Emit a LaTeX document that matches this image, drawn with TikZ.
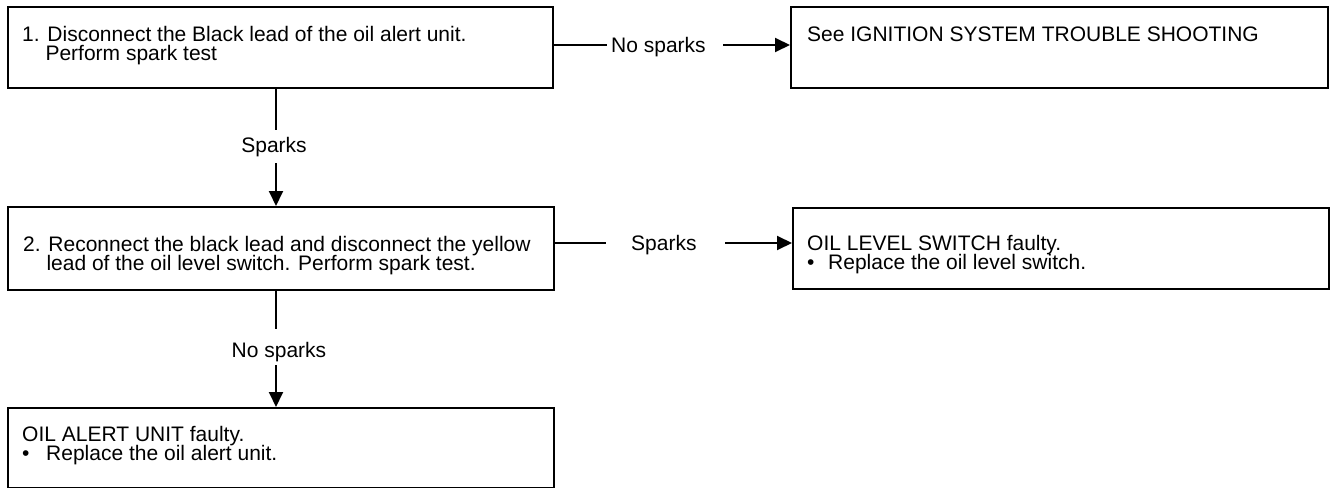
\documentclass[tikz,border=0pt]{standalone}
\usepackage{fontspec}
\setmainfont{Liberation Sans}
\usetikzlibrary{arrows.meta}
\newcommand{\diagfont}{\fontsize{21pt}{19pt}\selectfont\lineskiplimit=-50pt\relax}
\tikzset{
  box/.style={draw, line width=1.8pt, inner sep=0pt, anchor=north west},
  txt/.style={anchor=north west, inner sep=0pt, align=left, font=\diagfont},
  lab/.style={anchor=base, inner sep=0pt, font=\diagfont},
  conn/.style={line width=1.9pt},
  arr/.style={line width=1.9pt, -{Triangle[length=15pt,width=14pt]}},
}
\begin{document}
\begin{tikzpicture}[x=1pt,y=-1pt]
\useasboundingbox (0,0) rectangle (1332,487);
% boxes
\node[box, minimum width=545pt, minimum height=81pt] (b1) at (7,6) {};
\node[box, minimum width=537pt, minimum height=81pt] (b2) at (790,6) {};
\node[box, minimum width=546pt, minimum height=83pt] (b3) at (7,206) {};
\node[box, minimum width=536pt, minimum height=81pt] (b4) at (792,207) {};
\node[box, minimum width=546pt, minimum height=80pt] (b5) at (7,407) {};
% texts
\node[txt] (t1) at (22,26) {1. Disconnect the Black lead of the oil alert unit.\\\hphantom{1.\ }Perform spark test};
\node[txt] (t2) at (807,27) {See IGNITION SYSTEM TROUBLE SHOOTING};
\node[txt] (t3) at (23,236) {2. Reconnect the black lead and disconnect the yellow\\\hphantom{2.\ }lead of the oil level switch. Perform spark test.};
\node[txt] (t4) at (807,235.5) {OIL LEVEL SWITCH faulty.\\\makebox[21pt][l]{•}Replace the oil level switch.};
\node[txt] (t5) at (22,426) {OIL ALERT UNIT faulty.\\\makebox[24pt][l]{•}Replace the oil alert unit.};
% labels
\node[lab, anchor=base west] (l1) at (611,52.5) {No sparks};
\node[lab] (l2) at (274,152.5) {Sparks};
\node[lab, anchor=base west] (l3) at (631,250.5) {Sparks};
\node[lab] (l4) at (279,357.5) {No sparks};
% connector ends
\coordinate (c1a) at (607,45);
\coordinate (c1b) at (723,45);
\coordinate (c2a) at (276,130);
\coordinate (c2b) at (276,163);
\coordinate (c3a) at (606,243);
\coordinate (c3b) at (725,243);
\coordinate (c4a) at (276,329);
\coordinate (c4b) at (276,365);
% connectors
\draw[conn] (b1.east |- c1a) -- (c1a);
\draw[arr] (c1b) -- (b2.west |- c1b);
\draw[conn] (c2a |- b1.south) -- (c2a);
\draw[arr] (c2b) -- (c2b |- b3.north);
\draw[conn] (b3.east |- c3a) -- (c3a);
\draw[arr] (c3b) -- (b4.west |- c3b);
\draw[conn] (c4a |- b3.south) -- (c4a);
\draw[arr] (c4b) -- (c4b |- b5.north);
\end{tikzpicture}
\end{document}
